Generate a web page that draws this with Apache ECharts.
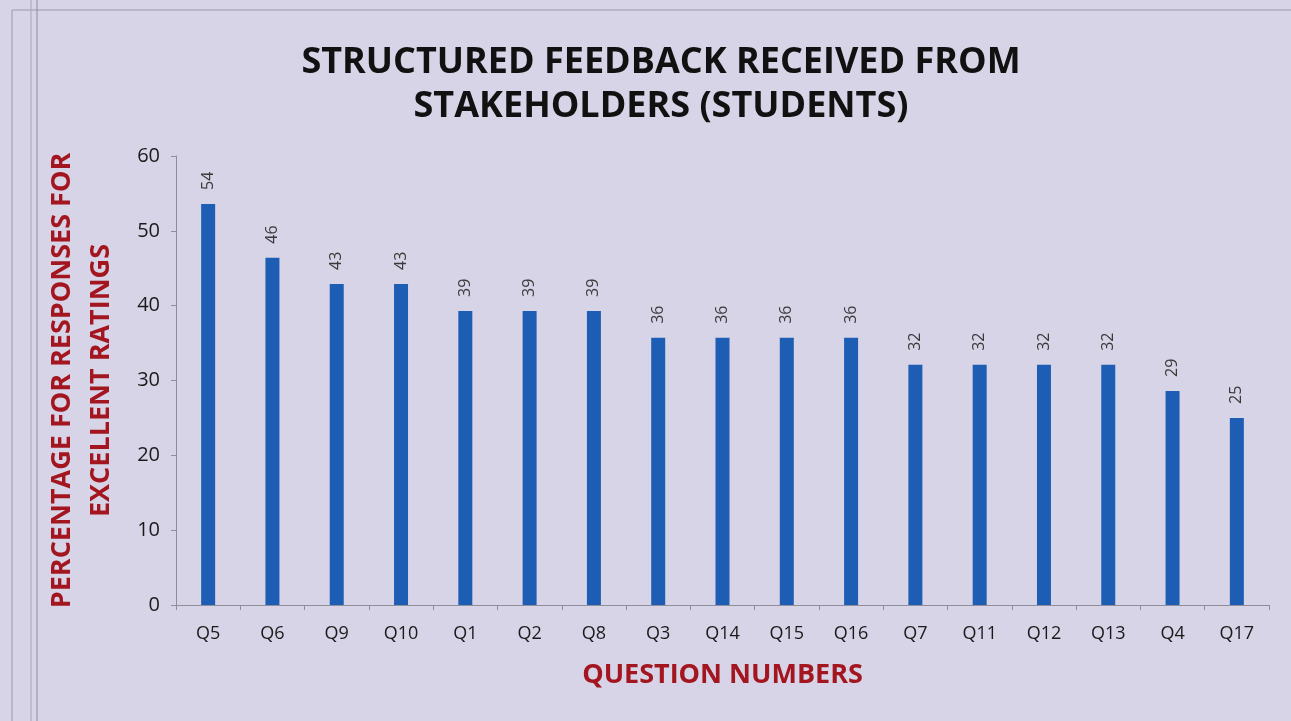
<!DOCTYPE html>
<html>
<head>
<meta charset="utf-8">
<script src="https://cdn.jsdelivr.net/npm/echarts@6/dist/echarts.min.js"></script>
<style>
	html, body { margin: 0; padding: 0; background: #d7d4e7; }
	#chart { width: 1291px; height: 721px; }
</style>
</head>
<body>
<div id="chart"></div>
<script>
// 题号（按得分排序）
const questions = ['Q5', 'Q6', 'Q9', 'Q10', 'Q1', 'Q2', 'Q8', 'Q3', 'Q14', 'Q15', 'Q16', 'Q7', 'Q11', 'Q12', 'Q13', 'Q4', 'Q17'];
// 优秀评分百分比
const excellentPct = [53.6, 46.4, 42.9, 42.9, 39.3, 39.3, 39.3, 35.7, 35.7, 35.7, 35.7, 32.1, 32.1, 32.1, 32.1, 28.6, 25.0];
// y轴刻度
const yTicks = [0, 10, 20, 30, 40, 50, 60];

const red = '#a3161f';
const chart = echarts.init(document.getElementById('chart'));
chart.setOption({
	backgroundColor: '#d7d4e7',
	title: {
		text: 'STRUCTURED FEEDBACK RECEIVED FROM\nSTAKEHOLDERS (STUDENTS)',
		left: 656,
		top: 36,
		textAlign: 'center',
		textStyle: {
			fontFamily: 'Open Sans',
			fontWeight: 'bold',
			fontSize: 36,
			lineHeight: 44,
			color: '#111'
		}
	},
	// 边框
	graphic: [
		{ type: 'line', shape: { x1: 12, y1: 10, x2: 1291, y2: 10 }, style: { stroke: '#9a98a8', lineWidth: 1 } },
		{ type: 'line', shape: { x1: 12, y1: 10, x2: 12, y2: 721 }, style: { stroke: '#9a98a8', lineWidth: 1 } },
		{ type: 'line', shape: { x1: 31, y1: 0, x2: 31, y2: 721 }, style: { stroke: '#a8a6b4', lineWidth: 1 } },
		{ type: 'line', shape: { x1: 37, y1: 0, x2: 37, y2: 721 }, style: { stroke: '#8e8c9c', lineWidth: 1 } }
	],
	grid: {
		left: 176,
		right: 22,
		top: 156,
		bottom: 116
	},
	xAxis: {
		type: 'category',
		data: questions,
		name: 'QUESTION NUMBERS',
		nameLocation: 'middle',
		nameGap: 57,
		nameTextStyle: {
			fontFamily: 'Open Sans',
			fontWeight: 'bold',
			fontSize: 27,
			color: red
		},
		axisLine: { lineStyle: { color: '#8f8d99', width: 1 } },
		axisTick: { show: true, length: 5, lineStyle: { color: '#8f8d99' } },
		axisLabel: {
			fontFamily: 'Open Sans',
			fontSize: 18,
			color: '#1a1a1a',
			margin: 20
		}
	},
	yAxis: {
		type: 'value',
		min: yTicks[0],
		max: yTicks[yTicks.length - 1],
		interval: 10,
		name: 'PERCENTAGE FOR RESPONSES FOR\nEXCELLENT RATINGS',
		nameLocation: 'middle',
		nameGap: 55,
		nameTextStyle: {
			fontFamily: 'Open Sans',
			fontWeight: 'bold',
			fontSize: 27,
			lineHeight: 39,
			color: red
		},
		axisLine: { show: true, lineStyle: { color: '#8f8d99', width: 1 } },
		axisTick: { show: true, length: 5, lineStyle: { color: '#8f8d99' } },
		splitLine: { show: false },
		axisLabel: {
			fontFamily: 'Open Sans',
			fontSize: 20,
			color: '#1a1a1a',
			margin: 16
		}
	},
	series: [
		{
			name: 'excellent',
			type: 'bar',
			data: excellentPct,
			barWidth: 14,
			itemStyle: { color: '#1d5eb4' },
			label: {
				show: true,
				position: 'top',
				rotate: 90,
				distance: 14,
				align: 'left',
				verticalAlign: 'middle',
				fontFamily: 'Open Sans',
				fontSize: 16,
				color: '#3a3a3a',
				formatter: p => Math.round(p.value)
			}
		}
	]
});
</script>
</body>
</html>
